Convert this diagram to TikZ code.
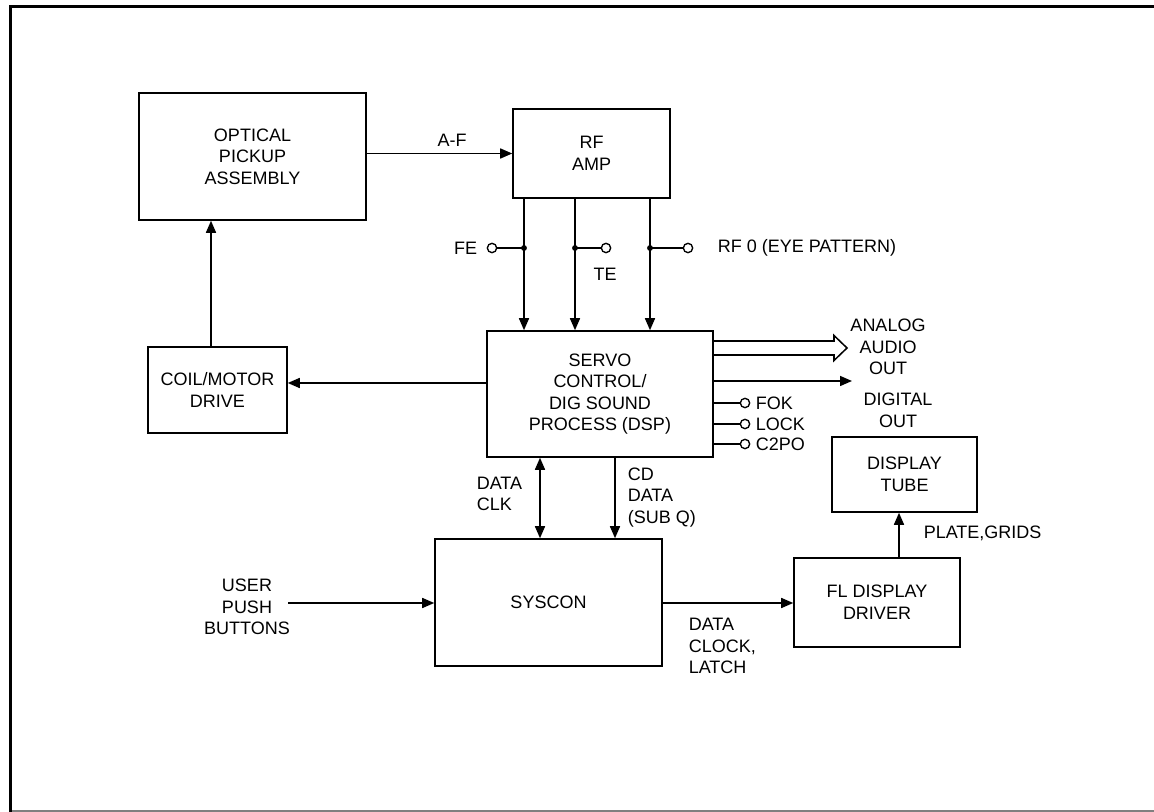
\documentclass[tikz,border=0pt]{standalone}
\usepackage{fontspec}
\setmainfont{Liberation Sans}
\usetikzlibrary{arrows.meta,calc}
\begin{document}
\begin{tikzpicture}[x=0.75pt,y=-0.75pt,
  line width=1.15pt,
  every node/.style={font=\fontsize{13.5}{16.2}\selectfont},
  blk/.style={draw, align=center, inner sep=0pt},
  lbl/.style={inner sep=0pt, align=center},
  lbll/.style={inner sep=0pt, align=left},
  arr/.style={-{Triangle[length=9pt,width=7.5pt]}},
  darr/.style={{Triangle[length=9pt,width=7.5pt]}-{Triangle[length=9pt,width=7.5pt]}},
  pin/.style={draw, fill=white, circle, inner sep=0pt, minimum size=7pt, line width=1pt}]
\useasboundingbox (0,0) rectangle (1154,812);
% frame
\draw[line width=2.5pt] (10.3,812) -- (10.3,6.3) -- (1154,6.3);
\draw[gray, line width=1pt] (12,811) -- (1154,811);

% blocks
\node[blk, minimum width=170.25pt, minimum height=95.25pt] (opt) at (252.5,156.5) {OPTICAL\\PICKUP\\ASSEMBLY};
\node[blk, minimum width=117.75pt, minimum height=66.75pt] (rf) at (591.5,153.5) {RF\\AMP};
\node[blk, minimum width=104.25pt, minimum height=64.5pt] (coil) at (217.5,390) {COIL/MOTOR\\DRIVE};
\node[blk, minimum width=169.5pt, minimum height=94.5pt] (dsp) at (600,394) {SERVO\\CONTROL/\\DIG SOUND\\PROCESS (DSP)};
\node[blk, minimum width=170.25pt, minimum height=95.25pt] (sys) at (548.5,602.5) {SYSCON};
\node[blk, minimum width=124.5pt, minimum height=66.75pt] (fl) at (877,602.5) {FL DISPLAY\\DRIVER};
\node[blk, minimum width=108.75pt, minimum height=56.25pt] (tube) at (904.5,474.5) {DISPLAY\\TUBE};

% optical -> rf
\draw[arr] (rf.west -| opt.east) -- (rf.west);
\node[lbl] (af) at (452,140) {A-F};

% coil -> optical
\coordinate (cn) at ($(coil.north)+(-6.5,0)$);
\draw[arr] (cn) -- (cn |- opt.south);
% dsp -> coil
\draw[arr] (dsp.west |- 0,383) -- (coil.east |- 0,383);

% rf -> dsp three lines
\foreach \xx in {524,575,650}{
  \draw[arr] (rf.south -| \xx,0) -- (dsp.north -| \xx,0);
  \fill (\xx,248) circle (2.2pt);
}
\coordinate (jfe) at (524,248);
\coordinate (jte) at (575,248);
\coordinate (jrf) at (650,248);
\node[pin] (cfe) at (492,248) {};
\node[pin] (cte) at (606,248) {};
\node[pin] (crf) at (688,248) {};
\draw (cfe) -- (jfe);
\draw (jte) -- (cte);
\draw (jrf) -- (crf);
\node[lbl, anchor=east] (lfe) at (478,248) {FE};
\node[lbl] (lte) at (605,274) {TE};
\node[lbl, anchor=west] (lrf) at (717,248) {RF 0 (EYE PATTERN)};

% analog audio hollow arrow
\coordinate (ha1) at (dsp.east |- 0,341);
\coordinate (ha2) at (dsp.east |- 0,355);
\draw[line join=miter] (ha1) -- (834,341) -- (834,335.5) -- (847,348) -- (834,360.5) -- (834,355) -- (ha2);
\node[lbl] (lana) at (888,347) {ANALOG\\AUDIO\\OUT};

% digital out
\coordinate (dig) at (852,381);
\draw[arr] (dsp.east |- dig) -- (dig);
\node[lbl] (ldig) at (898,410.5) {DIGITAL\\OUT};

% FOK LOCK C2PO
\node[pin] (cfok) at (745,403) {};
\node[pin] (clock) at (745,424) {};
\node[pin] (cc2) at (745,444) {};
\draw (dsp.east |- cfok) -- (cfok);
\draw (dsp.east |- clock) -- (clock);
\draw (dsp.east |- cc2) -- (cc2);
\node[lbll, anchor=west] (lfok) at (755,403) {FOK};
\node[lbll, anchor=west] (llock) at (755,424) {LOCK};
\node[lbll, anchor=west] (lc2) at (755,444) {C2PO};

% dsp <-> syscon
\draw[darr] (dsp.south -| 540,0) -- (sys.north -| 540,0);
\node[lbll, anchor=west] (ldclk) at (476,494) {DATA\\CLK};
\draw[arr] (dsp.south -| 615,0) -- (sys.north -| 615,0);
\node[lbll, anchor=west] (lcd) at (627,497.5) {CD\\DATA\\(SUB Q)};

% user -> syscon
\coordinate (usr) at (288,603);
\draw[arr] (usr) -- (sys.west |- usr);
\node[lbl] (luser) at (247,607) {USER\\PUSH\\BUTTONS};

% syscon -> fl
\draw[arr] (sys.east |- 0,603) -- (fl.west |- 0,603);
\node[lbll, anchor=west] (ldcl) at (688,646) {DATA\\CLOCK,\\LATCH};

% fl -> tube
\draw[arr] (fl.north -| 899,0) -- (tube.south -| 899,0);
\node[lbll, anchor=west] (lplate) at (923,533) {PLATE,GRIDS};
\end{tikzpicture}
\end{document}
